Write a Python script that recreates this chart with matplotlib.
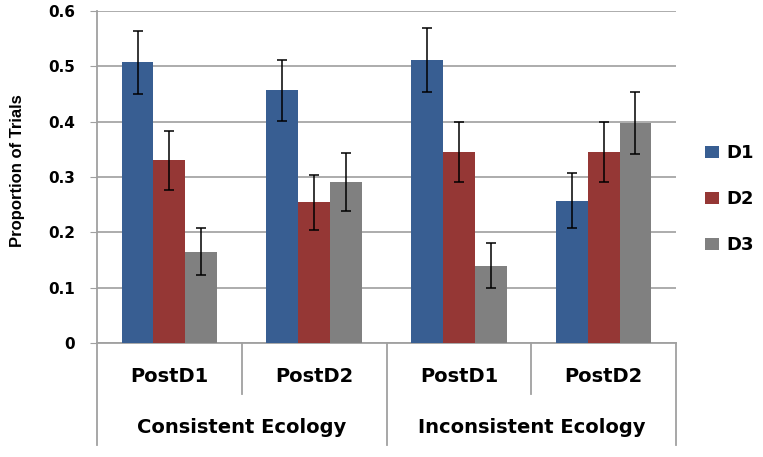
import numpy as np
import matplotlib.pyplot as plt

# data
groups = ['Consistent Ecology', 'Inconsistent Ecology']
conditions = ['PostD1', 'PostD2', 'PostD1', 'PostD2']
series = ['D1', 'D2', 'D3']

d1 = [0.507, 0.457, 0.512, 0.257]
d2 = [0.330, 0.254, 0.345, 0.345]
d3 = [0.165, 0.291, 0.140, 0.397]

d1_err = [0.057, 0.055, 0.058, 0.050]
d2_err = [0.054, 0.049, 0.054, 0.054]
d3_err = [0.042, 0.052, 0.040, 0.056]

colors = ['#385E92', '#953735', '#808080']

plt.rcParams['font.family'] = ['DejaVu Sans']

fig = plt.figure(figsize=(7.63, 4.57), dpi=100)
ax = fig.add_axes([97 / 763, 1 - 343 / 457, 579 / 763, 332 / 457])

x = np.arange(1, len(conditions) + 1)
width = 0.22
for i, (vals, errs) in enumerate(zip([d1, d2, d3], [d1_err, d2_err, d3_err])):
    ax.bar(x + (i - 1) * width, vals, width, color=colors[i], label=series[i],
           yerr=errs, capsize=3.5, error_kw=dict(ecolor='black', elinewidth=1.1, capthick=1.1),
           zorder=3)

ax.set_xlim(0.5, 4.5)
ax.set_ylim(0, 0.6)
ax.set_yticks(np.arange(0, 0.61, 0.1))
ax.set_yticklabels(['0', '0.1', '0.2', '0.3', '0.4', '0.5', '0.6'],
                   fontsize=11, fontweight='bold')
ax.tick_params(axis='y', length=5, color='#a0a0a0', pad=11)
ax.set_xticks([])
ax.yaxis.grid(True, color='#a6a6a6', linewidth=1.3, zorder=0)
ax.set_axisbelow(True)

for s in ['top', 'right']:
    ax.spines[s].set_visible(False)
for s in ['left', 'bottom']:
    ax.spines[s].set_color('#a0a0a0')
    ax.spines[s].set_linewidth(1.3)

ax.set_ylabel('Proportion of Trials', fontsize=12, fontweight='bold',
              family='Liberation Sans')
ax.yaxis.set_label_coords(-0.124, 0.52)

# two-level category axis
tr = ax.get_xaxis_transform()
for xp in [0.5, 2.5, 4.5]:
    ax.plot([xp, xp], [0, -0.307], transform=tr, color='#a0a0a0', lw=1.3, clip_on=False)
for xp in [1.5, 3.5]:
    ax.plot([xp, xp], [0, -0.154], transform=tr, color='#a0a0a0', lw=1.3, clip_on=False)
for xp, lab in zip(x, conditions):
    ax.text(xp, -0.102, lab, transform=tr, ha='center', va='center',
            fontsize=14, fontweight='bold')
for j, g in enumerate(groups):
    ax.text(1.5 + 2 * j, -0.256, g, transform=tr, ha='center', va='center',
            fontsize=14, fontweight='bold')

ax.legend(loc='center left', bbox_to_anchor=(1.035, 0.434), frameon=False,
          handlelength=0.75, handleheight=0.65, handletextpad=0.4, labelspacing=1.55,
          borderpad=0, prop=dict(size=13, weight='bold'))

fig.savefig('out.png', dpi=100)
